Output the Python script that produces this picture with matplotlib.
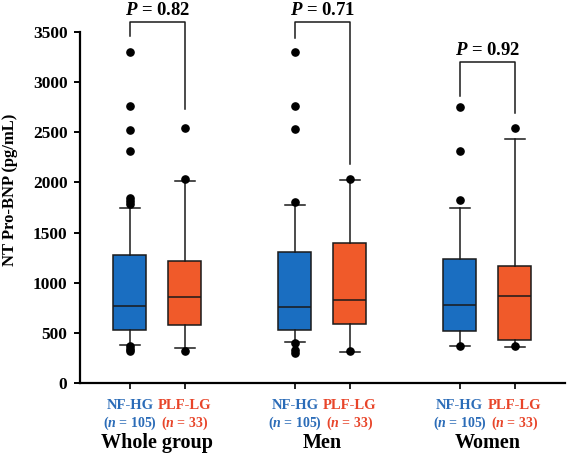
import matplotlib
matplotlib.use("Agg")
import matplotlib.pyplot as plt
import matplotlib.transforms as mtransforms

plt.rcParams['font.family'] = ['Liberation Serif', 'DejaVu Serif']
plt.rcParams['mathtext.fontset'] = 'custom'
plt.rcParams['mathtext.rm'] = 'Liberation Serif:bold'
plt.rcParams['mathtext.it'] = 'Liberation Serif:italic:bold'
plt.rcParams['mathtext.bf'] = 'Liberation Serif:bold'

# box statistics (pg/mL)
groups = ["Whole group", "Men", "Women"]
cohorts = ["NF-HG", "PLF-LG"]
cohort_n = ["($n$ = 105)", "($n$ = 33)"]
positions = [1, 2, 4, 5, 7, 8]
q1 = [523, 575, 530, 590, 520, 425]
med = [770, 857, 757, 823, 780, 870]
q3 = [1273, 1220, 1307, 1397, 1237, 1170]
whislo = [380, 347, 403, 313, 370, 363]
whishi = [1747, 2010, 1773, 2020, 1740, 2430]
fliers = [
    [3300, 2760, 2520, 2310, 1840, 1810, 1780, 370, 340, 315],
    [2540, 2030, 315],
    [3300, 2760, 2530, 1800, 400, 330, 300],
    [2030, 315],
    [2750, 2310, 1820, 370],
    [2540, 365],
]
p_values = ["0.82", "0.71", "0.92"]
# bracket: top level, left leg end, right leg end
bracket_top = [3603, 3603, 3197]
bracket_left = [3463, 3440, 2863]
bracket_right = [2730, 2180, 2697]

blue = "#1A6EC1"
orange = "#F05A2A"
blue_txt = "#2B6CB8"
red_txt = "#E8452A"
colors = [blue, orange] * 3

fig = plt.figure(figsize=(5.71, 4.58), dpi=100)
ax = fig.add_axes([0.14, 0.164, 0.849, 0.766])

stats = []
for i in range(len(positions)):
    stats.append(dict(q1=q1[i], med=med[i], q3=q3[i], whislo=whislo[i],
                      whishi=whishi[i], fliers=fliers[i]))

bp = ax.bxp(stats, positions=positions, widths=0.6, capwidths=0.36,
            patch_artist=True, showfliers=True,
            boxprops=dict(linewidth=1.1, edgecolor="#1a1a1a"),
            medianprops=dict(color="#1a1a1a", linewidth=1.1),
            whiskerprops=dict(color="#1a1a1a", linewidth=1.1),
            capprops=dict(color="#1a1a1a", linewidth=1.1),
            flierprops=dict(marker='o', markerfacecolor='black',
                            markeredgecolor='black', markersize=5.2))
for patch, c in zip(bp['boxes'], colors):
    patch.set_facecolor(c)

ax.set_ylim(0, 3500)
ax.set_xlim(0.09, 8.91)
ax.set_yticks(range(0, 3501, 500))
ax.set_xticks(positions)
ax.set_xticklabels([])
for s in ['top', 'right']:
    ax.spines[s].set_visible(False)
for s in ['left', 'bottom']:
    ax.spines[s].set_linewidth(1.6)
ax.tick_params(axis='y', direction='out', length=4, width=1.4, pad=5,
               labelsize=12.5)
ax.tick_params(axis='x', direction='out', length=4, width=1.2)
for lab in ax.get_yticklabels():
    lab.set_fontweight('bold')

ax.set_ylabel("NT Pro-BNP (pg/mL)", fontsize=12, fontweight='bold')
ax.yaxis.set_label_coords(-0.128, 0.55)

# brackets with p-values
for g in range(3):
    xl = positions[2 * g]
    xr = positions[2 * g + 1]
    ax.plot([xl, xl, xr, xr],
            [bracket_left[g], bracket_top[g], bracket_top[g], bracket_right[g]],
            color='#1a1a1a', linewidth=1.1, clip_on=False)
    ax.text((xl + xr) / 2, bracket_top[g] + 70, "$P$ = " + p_values[g],
            ha='center', va='baseline', fontsize=13.5, fontweight='bold',
            clip_on=False)

# category labels under the axis
trans = mtransforms.blended_transform_factory(ax.transData, fig.transFigure)
txt_colors = [blue_txt, red_txt]
for g in range(3):
    for k in range(2):
        x = positions[2 * g + k]
        ax.text(x, 0.1157, cohorts[k], transform=trans, ha='center',
                va='center', fontsize=10.5, fontweight='bold',
                color=txt_colors[k])
        ax.text(x, 0.0764, cohort_n[k], transform=trans, ha='center',
                va='center', fontsize=10, fontweight='bold',
                color=txt_colors[k])
    xc = (positions[2 * g] + positions[2 * g + 1]) / 2
    ax.text(xc, 0.033, groups[g], transform=trans, ha='center',
            va='center', fontsize=14.5, fontweight='bold')

fig.savefig("out.png", dpi=100)
